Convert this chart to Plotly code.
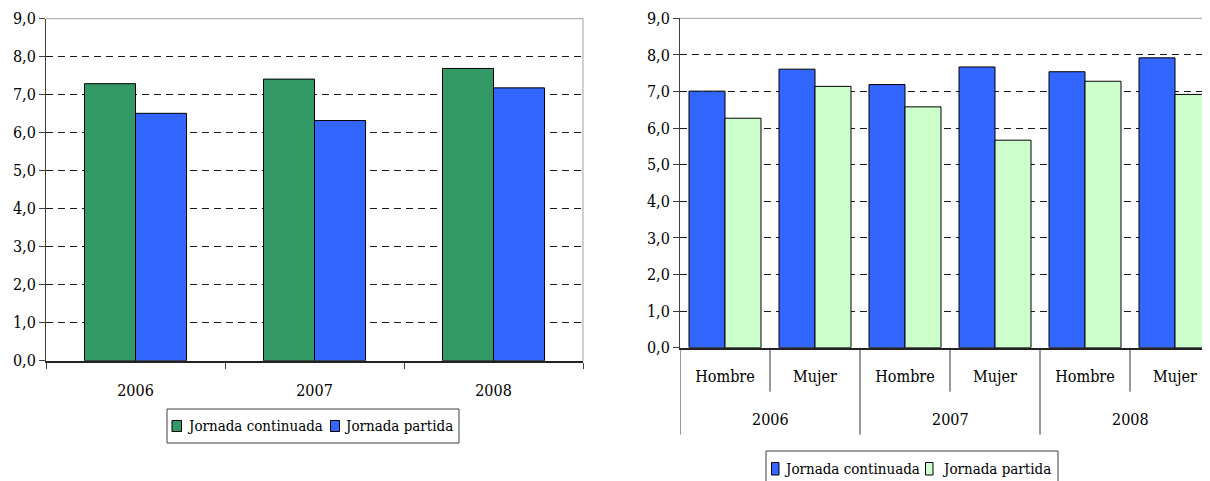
import plotly.graph_objects as go

# ---------------- data ----------------
years = ["2006", "2007", "2008"]
left_continuada = [7.29, 7.41, 7.69]
left_partida = [6.51, 6.32, 7.18]

group_years = ["2006", "2006", "2007", "2007", "2008", "2008"]
sexes = ["Hombre", "Mujer", "Hombre", "Mujer", "Hombre", "Mujer"]
right_continuada = [7.01, 7.61, 7.19, 7.67, 7.54, 7.92]
right_partida = [6.27, 7.14, 6.58, 5.67, 7.28, 6.92]

series_names = ["Jornada continuada", "Jornada partida"]
yticks = [0, 1, 2, 3, 4, 5, 6, 7, 8, 9]

# category keys for the right chart (year + sex), labelled by sex
right_keys = [f"{y} {s}" for y, s in zip(group_years, sexes)]

# ---------------- style ----------------
GREEN = "#339966"
BLUE = "#3366FF"
LIGHT = "#CCFFCC"
FONT = "DejaVu Serif Condensed, DejaVu Serif, Liberation Serif, serif"
FS = 16
LFS = 15
W, H = 1210, 481
OFF = 8  # page offset of the figure inside the browser window


def px(x):
    """screen x (pixels) -> paper fraction"""
    return (x - OFF) / W


def py(y):
    """screen y (pixels from top) -> paper fraction"""
    return (H - (y - OFF)) / H


fig = go.Figure()

fig.add_trace(go.Bar(
    x=years, y=left_continuada, name=series_names[0],
    marker=dict(color=GREEN, line=dict(color="black", width=1)),
    width=0.285, offset=-0.285, xaxis="x", yaxis="y"))
fig.add_trace(go.Bar(
    x=years, y=left_partida, name=series_names[1],
    marker=dict(color=BLUE, line=dict(color="black", width=1)),
    width=0.285, offset=0, xaxis="x", yaxis="y"))

fig.add_trace(go.Bar(
    x=right_keys, y=right_continuada, name=series_names[0],
    marker=dict(color=BLUE, line=dict(color="black", width=1)),
    width=0.4, offset=-0.4, xaxis="x2", yaxis="y2"))
fig.add_trace(go.Bar(
    x=right_keys, y=right_partida, name=series_names[1],
    marker=dict(color=LIGHT, line=dict(color="black", width=1)),
    width=0.4, offset=0, xaxis="x2", yaxis="y2"))

yaxis_common = dict(
    range=[0, 9], tickvals=yticks, tickformat=".1f",
    showgrid=True, gridcolor="#1a1a1a", gridwidth=1, griddash="7px,5px",
    zeroline=False, showline=True, linecolor="#404040", linewidth=1,
    ticks="outside", ticklen=6, tickcolor="#404040", automargin=False,
    tickfont=dict(family=FONT, size=FS, color="black"),
)

# year group labels for the right chart
year_centres = [(2 * i + 0.5) for i in range(len(years))]
annotations = [
    dict(xref="x2", yref="y2 domain", x=c, y=0, yshift=-72, text=yr, showarrow=False,
         font=dict(family=FONT, size=FS, color="black"), xanchor="center", yanchor="middle")
    for c, yr in zip(year_centres, years)
]

shapes = [
    # plot-area borders (grey)
    dict(type="line", xref="x domain", yref="y domain", x0=0, x1=1, y0=1, y1=1,
         line=dict(color="#A0A0A0", width=1), layer="below"),
    dict(type="line", xref="x domain", yref="y domain", x0=1, x1=1, y0=0, y1=1,
         line=dict(color="#A0A0A0", width=1), layer="below"),
    dict(type="line", xref="x2 domain", yref="y2 domain", x0=0, x1=1, y0=1, y1=1,
         line=dict(color="#A0A0A0", width=1), layer="below"),
]
# separators below the right x axis: sex boundaries (short) and year boundaries (long)
for i in range(len(right_keys)):
    b = i - 0.5
    length = 87 if i % 2 == 0 else 44
    shapes.append(dict(type="line", xref="x2", yref="y2 domain", ysizemode="pixel", yanchor=0,
                       x0=b, x1=b, y0=0, y1=-length, line=dict(color="#333333", width=1)))

# ---------------- legends (box, swatches, labels) ----------------
legend_specs = [
    dict(box=(167, 459, 409, 443),
         sw=[(172, 181.5, 420.5, 431.5), (330.5, 339.5, 420.5, 431.5)],
         tx=[184.5, 341.5], ty=426, colors=[GREEN, BLUE]),
    dict(box=(766, 1058, 451, 500),
         sw=[(771.5, 779, 462.5, 475), (925.5, 933, 462.5, 475)],
         tx=[782, 940], ty=468.5, colors=[BLUE, LIGHT]),
]
for spec in legend_specs:
    x0, x1, y0, y1 = spec["box"]
    shapes.append(dict(type="rect", xref="paper", yref="paper",
                       x0=px(x0), x1=px(x1), y0=py(y1), y1=py(y0),
                       line=dict(color="#404040", width=1), fillcolor="white"))
    for (a0, a1, b0, b1), col, tx, name in zip(spec["sw"], spec["colors"], spec["tx"], series_names):
        shapes.append(dict(type="rect", xref="paper", yref="paper",
                           x0=px(a0), x1=px(a1), y0=py(b1), y1=py(b0),
                           line=dict(color="black", width=1), fillcolor=col))
        annotations.append(dict(xref="paper", yref="paper", x=px(tx), y=py(spec["ty"]),
                                text=name, showarrow=False, xanchor="left", yanchor="middle",
                                font=dict(family=FONT, size=LFS, color="black")))

fig.update_layout(
    width=W, height=H,
    margin=dict(l=0, r=0, t=0, b=0, autoexpand=False),
    paper_bgcolor="white", plot_bgcolor="white",
    separators=", ",
    showlegend=False,
    font=dict(family=FONT, size=FS, color="black"),
    xaxis=dict(
        domain=[px(46), px(583)], anchor="y", automargin=False,
        showline=True, linecolor="#222222", linewidth=2,
        ticks="outside", tickson="boundaries", ticklen=6, tickcolor="#404040",
        ticklabelstandoff=14,
        showgrid=False,
        tickfont=dict(family=FONT, size=FS, color="black"),
    ),
    yaxis=dict(domain=[py(360.7), py(18.7)], anchor="x", **yaxis_common),
    xaxis2=dict(
        domain=[px(680), 1.0], anchor="y2", type="category", automargin=False,
        range=[-0.5, -0.5 + (W + OFF - 680) / 90],
        tickvals=right_keys, ticktext=sexes,
        showline=True, linecolor="#222222", linewidth=2,
        ticks="",
        ticklabelstandoff=13,
        showgrid=False,
        tickfont=dict(family=FONT, size=FS, color="black"),
    ),
    yaxis2=dict(domain=[py(347.7), py(18.3)], anchor="x2", **yaxis_common),
    annotations=annotations,
    shapes=shapes,
)

fig.write_html("out.html")
